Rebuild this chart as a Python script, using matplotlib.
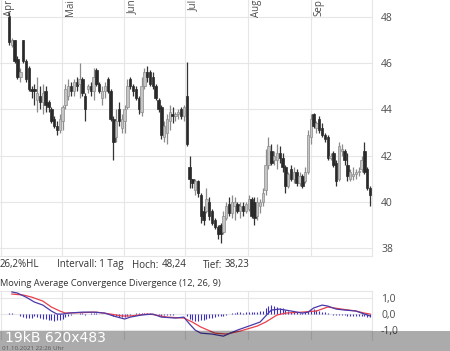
import matplotlib
matplotlib.use("Agg")
import matplotlib.pyplot as plt
from matplotlib.patches import Rectangle

# daily candles, April - September
opens = [48.0, 46.8, 47.0, 46.2, 45.4, 47.0, 46.1, 45.8, 44.9, 44.9,
         44.4, 44.6, 44.3, 44.8, 44.3, 44.0, 43.6, 43.3, 43.1, 43.5,
         44.2, 44.6, 45.0, 44.8, 45.2, 45.1, 45.3, 44.6, 44.9, 45.0,
         44.8, 45.7, 45.1, 44.5, 44.8, 45.3, 44.8, 43.6, 42.8, 44.0,
         43.2, 43.5, 44.1, 45.3, 45.0, 44.9, 44.5, 43.9, 45.0, 45.6,
         45.6, 45.4, 45.0, 44.4, 44.1, 42.8, 43.0, 43.5, 43.8, 43.7,
         43.8, 44.0, 43.7, 44.6, 41.5, 41.0, 40.5, 40.9, 40.3, 39.6,
         39.6, 40.0, 39.6, 39.2, 38.9, 39.0, 38.7, 39.3, 39.9, 39.5,
         39.8, 39.9, 39.6, 39.8, 39.6, 39.7, 40.1, 40.0, 39.4, 39.8,
         40.0, 40.5, 41.6, 42.2, 41.8, 41.8, 42.1, 41.9, 41.5, 40.7,
         41.4, 41.0, 41.3, 40.8, 41.1, 40.9, 41.3, 42.8, 43.8, 43.2,
         43.6, 43.2, 42.9, 42.8, 41.9, 42.1, 41.7, 41.0, 42.2, 42.2,
         41.6, 41.0, 41.1, 41.2, 41.3, 41.4, 42.2, 41.4, 40.6]
highs = [48.24, 47.1, 47.0, 46.3, 45.8, 47.0, 46.2, 45.9, 45.0, 45.1,
         45.4, 45.0, 45.1, 45.0, 44.4, 44.1, 43.7, 43.5, 43.8, 44.2,
         45.1, 45.3, 45.2, 45.3, 45.4, 46.0, 45.4, 44.7, 45.1, 45.2,
         45.8, 45.8, 45.2, 45.0, 45.2, 45.4, 44.9, 43.7, 44.0, 44.3,
         43.8, 44.2, 45.3, 45.4, 45.1, 45.0, 44.6, 45.4, 45.8, 45.9,
         45.7, 45.6, 45.1, 44.5, 44.2, 43.5, 43.8, 44.2, 44.1, 43.9,
         44.0, 44.1, 44.2, 46.05, 42.0, 41.0, 41.0, 40.95, 40.4, 39.8,
         40.6, 40.2, 39.7, 39.3, 39.0, 39.1, 39.6, 40.0, 40.2, 40.3,
         40.2, 40.0, 40.0, 40.0, 40.0, 40.3, 40.2, 40.2, 40.2, 40.1,
         40.6, 42.3, 42.8, 42.5, 42.2, 42.5, 42.4, 42.1, 41.6, 41.3,
         41.6, 41.5, 41.4, 41.3, 41.2, 41.5, 43.1, 43.8, 43.85, 43.5,
         43.7, 43.4, 43.0, 42.9, 42.1, 42.2, 41.8, 42.6, 42.5, 42.3,
         42.1, 41.4, 41.5, 41.4, 41.5, 42.0, 42.6, 41.5, 40.7]
lows = [46.8, 46.7, 46.0, 45.3, 45.2, 46.0, 45.2, 44.8, 44.5, 44.2,
        43.9, 44.0, 43.8, 43.9, 43.9, 43.4, 43.2, 42.9, 43.0, 43.1,
        44.0, 44.4, 44.6, 44.6, 44.8, 44.5, 44.6, 43.5, 44.7, 44.6,
        44.4, 45.0, 44.7, 44.2, 44.5, 44.7, 43.5, 41.8, 42.6, 43.3,
        43.0, 43.0, 44.0, 44.9, 44.6, 44.4, 43.8, 43.7, 44.9, 45.2,
        45.0, 44.9, 44.4, 43.9, 42.7, 42.6, 42.5, 43.1, 43.4, 43.5,
        43.6, 43.6, 43.5, 42.4, 40.6, 40.6, 40.3, 40.2, 39.1, 39.0,
        39.5, 39.2, 39.0, 38.8, 38.4, 38.23, 38.6, 39.2, 39.4, 39.3,
        39.2, 39.5, 39.3, 39.4, 39.5, 39.6, 39.3, 39.0, 39.2, 39.5,
        39.8, 40.3, 41.4, 41.6, 41.6, 41.4, 41.7, 41.3, 40.4, 40.6,
        40.9, 40.8, 40.7, 40.7, 40.6, 40.8, 41.2, 42.5, 43.2, 43.0,
        43.0, 42.8, 42.6, 41.8, 41.8, 41.5, 40.7, 40.9, 42.0, 41.6,
        40.9, 40.9, 40.95, 41.0, 41.1, 41.3, 41.2, 40.5, 39.8]
closes = [46.9, 47.0, 46.1, 45.4, 45.6, 46.1, 45.3, 44.9, 44.8, 44.8,
          44.7, 44.3, 44.7, 44.2, 44.1, 43.5, 43.3, 43.1, 43.6, 44.1,
          44.9, 45.0, 44.8, 45.2, 45.0, 45.3, 44.7, 44.0, 45.0, 44.8,
          45.4, 45.1, 44.8, 44.8, 45.0, 44.8, 43.6, 42.6, 43.5, 43.5,
          43.6, 44.0, 45.0, 45.0, 44.8, 44.5, 44.0, 45.0, 45.6, 45.4,
          45.1, 45.0, 44.5, 44.0, 42.9, 43.3, 43.6, 43.9, 43.7, 43.8,
          43.9, 43.7, 44.1, 42.5, 41.0, 40.8, 40.9, 40.4, 39.4, 39.2,
          40.1, 39.4, 39.1, 38.9, 38.6, 38.6, 39.4, 39.8, 39.5, 40.0,
          40.0, 39.6, 39.8, 39.6, 39.9, 40.1, 39.4, 39.3, 40.0, 40.0,
          40.4, 41.6, 42.4, 41.7, 42.0, 42.1, 41.9, 41.5, 40.7, 41.2,
          41.0, 41.3, 40.8, 41.1, 40.7, 41.3, 42.9, 43.6, 43.3, 43.4,
          43.1, 42.9, 42.7, 41.9, 42.0, 41.6, 40.9, 42.4, 42.3, 41.8,
          41.1, 41.3, 41.2, 41.3, 41.3, 41.8, 41.3, 40.6, 40.3]

months = ["Apr", "Mai", "Jun", "Jul", "Aug", "Sep"]
month_pos = [-2.7, 18.8, 40.8, 62.4, 84.8, 107.1]

# MACD (12, 26, 9)
macd_x = [1, 3, 6, 9, 12, 15, 17, 19, 21, 26, 30, 34, 37, 41, 43, 47, 51,
          54, 59, 62, 64, 66, 68, 72, 76, 81, 86, 89, 91, 93, 96, 100, 104,
          106, 108, 111, 113, 116, 119, 123, 126, 128]
macd_vals = [1.38, 1.31, 1.06, 0.75, 0.56, 0.19, 0.0, 0.0, 0.06, 0.12,
             0.12, 0.06, -0.12, -0.31, -0.19, -0.06, 0.0, -0.19, -0.25,
             -0.19, -0.62, -1.0, -1.19, -1.25, -1.38, -1.0, -0.69, -0.5,
             -0.12, 0.25, 0.31, 0.19, 0.06, 0.12, 0.38, 0.56, 0.5, 0.31,
             0.25, 0.19, 0.0, -0.12]
signal_x = [1, 5, 8, 12, 15, 18, 20, 26, 31, 36, 40, 43, 49, 51, 56, 62,
            65, 68, 73, 77, 82, 88, 91, 95, 98, 104, 109, 113, 118, 123,
            126, 128]
signal_vals = [1.25, 1.19, 1.06, 0.81, 0.44, 0.19, 0.06, 0.09, 0.12, 0.0,
               -0.12, -0.12, 0.0, -0.03, -0.19, -0.25, -0.5, -0.81, -1.19,
               -1.25, -1.06, -0.75, -0.5, -0.06, 0.06, 0.12, 0.19, 0.44,
               0.31, 0.19, 0.06, 0.0]
hist = [0.06, 0.05, 0.03, -0.02,
        -0.12, -0.18, -0.22, -0.25, -0.22,
        -0.15, -0.2, -0.25,
        -0.3, -0.32, -0.35, -0.38,
        -0.42, -0.4, -0.35, -0.28, -0.2,
        -0.12, -0.06, -0.02, 0.03,
        0.05, 0.04, -0.03, 0.02, 0.04, 0.06, 0.05, 0.02, 0.01, 0.03, 0.02,
        -0.06, -0.12, -0.15, -0.18, -0.2, -0.17, -0.1,
        -0.03, 0.03, 0.05, 0.04, 0.06, 0.08, 0.07, 0.05,
        0.03, -0.02, -0.06, -0.1, -0.08, -0.06, -0.04, -0.03, -0.02, -0.02, 0.02, 0.03,
        -0.15, -0.3, -0.38, -0.42, -0.42, -0.4, -0.36, -0.3, -0.25, -0.22, -0.18,
        -0.14, -0.12, -0.1, -0.05, 0.02, 0.05,
        0.08, 0.1, 0.1, 0.09, 0.1, 0.12,
        0.13, 0.14, 0.15, 0.16, 0.2,
        0.35, 0.5, 0.55, 0.5, 0.45, 0.4, 0.35,
        0.25, 0.2, 0.15, 0.12, 0.1, 0.08, 0.08,
        0.12, 0.2, 0.28, 0.3, 0.28, 0.22, 0.15, 0.1,
        0.06, 0.02, -0.03, -0.06,
        -0.05, -0.06, -0.08, -0.1, -0.1, -0.12, -0.12, -0.14, -0.15, -0.15, -0.16, -0.17]

plt.rcParams["font.family"] = ["Open Sans", "DejaVu Sans"]
W, H = 450, 351
fig = plt.figure(figsize=(W / 100, H / 100), dpi=100)
grid_c = "#e6e6e6"
txt_c = "#4d4d4d"
xlim = (-3.2, 128.7)

# price panel
ax = fig.add_axes([0, 1 - 256 / H, 372 / W, 256 / H])
idx = list(range(len(closes)))
up = [c >= o for o, c in zip(opens, closes)]
ax.vlines(idx, lows, highs, colors=["#8c8c8c" if u else "#333333" for u in up],
          linewidth=0.9, zorder=2)
bottoms = [min(o, c) for o, c in zip(opens, closes)]
heights = [max(abs(c - o), 0.05) for o, c in zip(opens, closes)]
ax.bar(idx, heights, bottom=bottoms, width=0.85,
       color=["#c4c4c4" if u else "#2a2a2a" for u in up],
       edgecolor=["#8c8c8c" if u else "#2a2a2a" for u in up],
       linewidth=0.5, zorder=3)
ax.set_xlim(*xlim)
ax.set_ylim(37.65, 48.74)
ax.set_yticks([38, 40, 42, 44, 46, 48])
ax.yaxis.tick_right()
ax.tick_params(axis="y", length=0, pad=6.5, labelsize=7.5, labelcolor=txt_c)
ax.set_xticks(month_pos)
ax.set_xticklabels([])
ax.tick_params(axis="x", length=0)
ax.grid(True, color=grid_c, linewidth=0.8, zorder=0)
for s in ["top", "left"]:
    ax.spines[s].set_visible(False)
for s in ["right", "bottom"]:
    ax.spines[s].set_color(grid_c)
for p, m in zip(month_pos, months):
    ax.text(p + 0.9, 48.76, m, rotation=90, ha="left", va="top",
            fontsize=7, color=txt_c)

# info line
info_y = 1 - 265 / H
info_c = "#333333"
fig.text(0 / W, info_y, "26,2%HL", fontsize=7, color=info_c, va="center")
fig.text(57 / W, info_y, "Intervall: 1 Tag", fontsize=7, color=info_c, va="center")
fig.text(132 / W, info_y, "Hoch:", fontsize=7, color=info_c, va="center")
fig.text(162 / W, info_y, "48,24", fontsize=7, color=info_c, va="center")
fig.text(203 / W, info_y, "Tief:", fontsize=7, color=info_c, va="center")
fig.text(225 / W, info_y, "38,23", fontsize=7, color=info_c, va="center")
fig.text(0, 1 - 283 / H, "Moving Average Convergence Divergence (12, 26, 9)",
         fontsize=6.7, color=info_c, va="center")

# MACD panel
ax2 = fig.add_axes([0, 1 - 340 / H, 372 / W, 49 / H])
ax2.vlines(idx, 0, hist, colors="#3b2fc2", linewidth=0.8, zorder=2)
ax2.plot(signal_x, signal_vals, color="#e8404a", linewidth=0.9, zorder=3)
ax2.plot(macd_x, macd_vals, color="#4a3aa8", linewidth=0.9, zorder=4)
ax2.set_xlim(*xlim)
ax2.set_ylim(-1.62, 1.44)
ax2.set_yticks([-1, 0, 1])
ax2.set_yticklabels(["-1,0", "0,0", "1,0"])
ax2.yaxis.tick_right()
ax2.tick_params(axis="y", length=0, pad=6.5, labelsize=7.5, labelcolor=txt_c)
ax2.set_xticks(month_pos)
ax2.set_xticklabels([])
ax2.tick_params(axis="x", length=0)
ax2.grid(True, color=grid_c, linewidth=0.8, zorder=0)
for s in ["left", "bottom"]:
    ax2.spines[s].set_visible(False)
for s in ["right", "top"]:
    ax2.spines[s].set_color(grid_c)

# thumbnail footer
fig.text(2 / W, 1 - 350.5 / H, "01.10.2021 22:26 Uhr", fontsize=4.5,
         color="#888888", va="bottom")
fig.patches.append(Rectangle((0, 0), 1, 20 / H, transform=fig.transFigure,
                             facecolor="black", alpha=0.33, edgecolor="none",
                             zorder=10))
fig.text(5 / W, 1 - 338.5 / H, "19kB 620x483", fontsize=10, color="white",
         va="center", family="DejaVu Sans", zorder=11)

fig.savefig("out.png", dpi=100)
